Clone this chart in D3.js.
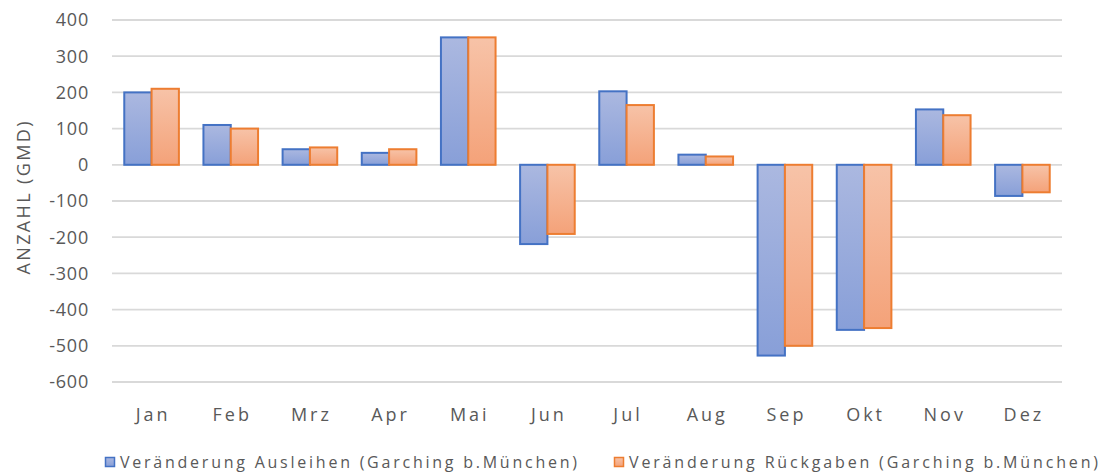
<!DOCTYPE html>
<html>
<head>
<meta charset="utf-8">
<script src="https://cdn.jsdelivr.net/npm/d3@7"></script>
<style>
  body { margin: 0; background: #fff; }
  svg text { font-family: "Open Sans", sans-serif; fill: #595959; }
</style>
</head>
<body>
<div id="chart"></div>
<script>
// chart data
var months = ["Jan", "Feb", "Mrz", "Apr", "Mai", "Jun", "Jul", "Aug", "Sep", "Okt", "Nov", "Dez"];
var ausleihen = [200, 110, 43, 33, 352, -219, 203, 28, -527, -456, 153, -86];
var rueckgaben = [210, 100, 48, 43, 352, -191, 165, 23, -500, -451, 137, -76];
var yTicks = [400, 300, 200, 100, 0, -100, -200, -300, -400, -500, -600];
var seriesNames = ["Veränderung Ausleihen (Garching b.München)", "Veränderung Rückgaben (Garching b.München)"];

var width = 1099, height = 473;
var margin = { top: 20, right: 37, bottom: 91, left: 112 };

var svg = d3.select("#chart").append("svg")
    .attr("width", width)
    .attr("height", height);

// gradients for the two series
var defs = svg.append("defs");
function addGradient(id, top, bottom) {
    var g = defs.append("linearGradient")
        .attr("id", id)
        .attr("x1", 0).attr("y1", 0).attr("x2", 0).attr("y2", 1);
    g.append("stop").attr("offset", "0%").attr("stop-color", top);
    g.append("stop").attr("offset", "100%").attr("stop-color", bottom);
}
addGradient("gradBlue", "#abb8e0", "#889fd8");
addGradient("gradOrange", "#f7c3a8", "#f4a279");

var series = [
    { name: seriesNames[0], values: ausleihen, stroke: "#4472C4", fill: "url(#gradBlue)", lx: 105, len: 457 },
    { name: seriesNames[1], values: rueckgaben, stroke: "#ED7D31", fill: "url(#gradOrange)", lx: 614, len: 469 }
];

var x = d3.scaleBand()
    .domain(months)
    .range([margin.left, width - margin.right])
    .paddingInner(0.31)
    .paddingOuter(0.155);

var xSub = d3.scaleBand()
    .domain([0, 1])
    .range([0, x.bandwidth()]);

var y = d3.scaleLinear()
    .domain([-600, 400])
    .range([height - margin.bottom, margin.top]);

// gridlines
svg.append("g")
    .selectAll("line")
    .data(yTicks)
    .enter()
    .append("line")
    .attr("x1", margin.left)
    .attr("x2", width - margin.right)
    .attr("y1", function(d) { return y(d); })
    .attr("y2", function(d) { return y(d); })
    .attr("stroke", "#d9d9d9")
    .attr("stroke-width", 1.8);

// y axis labels
svg.append("g")
    .selectAll("text")
    .data(yTicks)
    .enter()
    .append("text")
    .attr("x", 89)
    .attr("y", function(d) { return y(d); })
    .attr("dy", "0.36em")
    .attr("text-anchor", "end")
    .style("font-size", "18px")
    .style("letter-spacing", "0.8px")
    .text(function(d) { return d; });

// y axis title
svg.append("text")
    .attr("transform", "translate(30,198) rotate(-90)")
    .attr("text-anchor", "middle")
    .attr("textLength", 153)
    .attr("lengthAdjust", "spacing")
    .style("font-size", "18px")
    .text("ANZAHL (GMD)");

// bars
series.forEach(function(s, i) {
    svg.append("g")
        .selectAll("rect")
        .data(s.values)
        .enter()
        .append("rect")
        .attr("x", function(d, j) { return x(months[j]) + xSub(i); })
        .attr("y", function(d) { return Math.min(y(d), y(0)); })
        .attr("width", xSub.bandwidth())
        .attr("height", function(d) { return Math.abs(y(d) - y(0)); })
        .attr("fill", s.fill)
        .attr("stroke", s.stroke)
        .attr("stroke-width", 2);
});

// x labels
svg.append("g")
    .selectAll("text")
    .data(months)
    .enter()
    .append("text")
    .attr("x", function(d) { return x(d) + x.bandwidth() / 2 + 1.5; })
    .attr("y", 421)
    .attr("text-anchor", "middle")
    .style("font-size", "18px")
    .style("letter-spacing", "3px")
    .text(function(d) { return d; });

// legend
series.forEach(function(s) {
    var lg = svg.append("g").attr("transform", "translate(" + s.lx + ",457)");
    lg.append("rect")
        .attr("x", 0.5).attr("y", 0.5)
        .attr("width", 9).attr("height", 9)
        .attr("fill", s.fill)
        .attr("stroke", s.stroke)
        .attr("stroke-width", 1.5);
    lg.append("text")
        .attr("x", 15)
        .attr("y", 11)
        .attr("textLength", s.len)
        .attr("lengthAdjust", "spacing")
        .style("font-size", "16px")
        .text(s.name);
});
</script>
</body>
</html>
